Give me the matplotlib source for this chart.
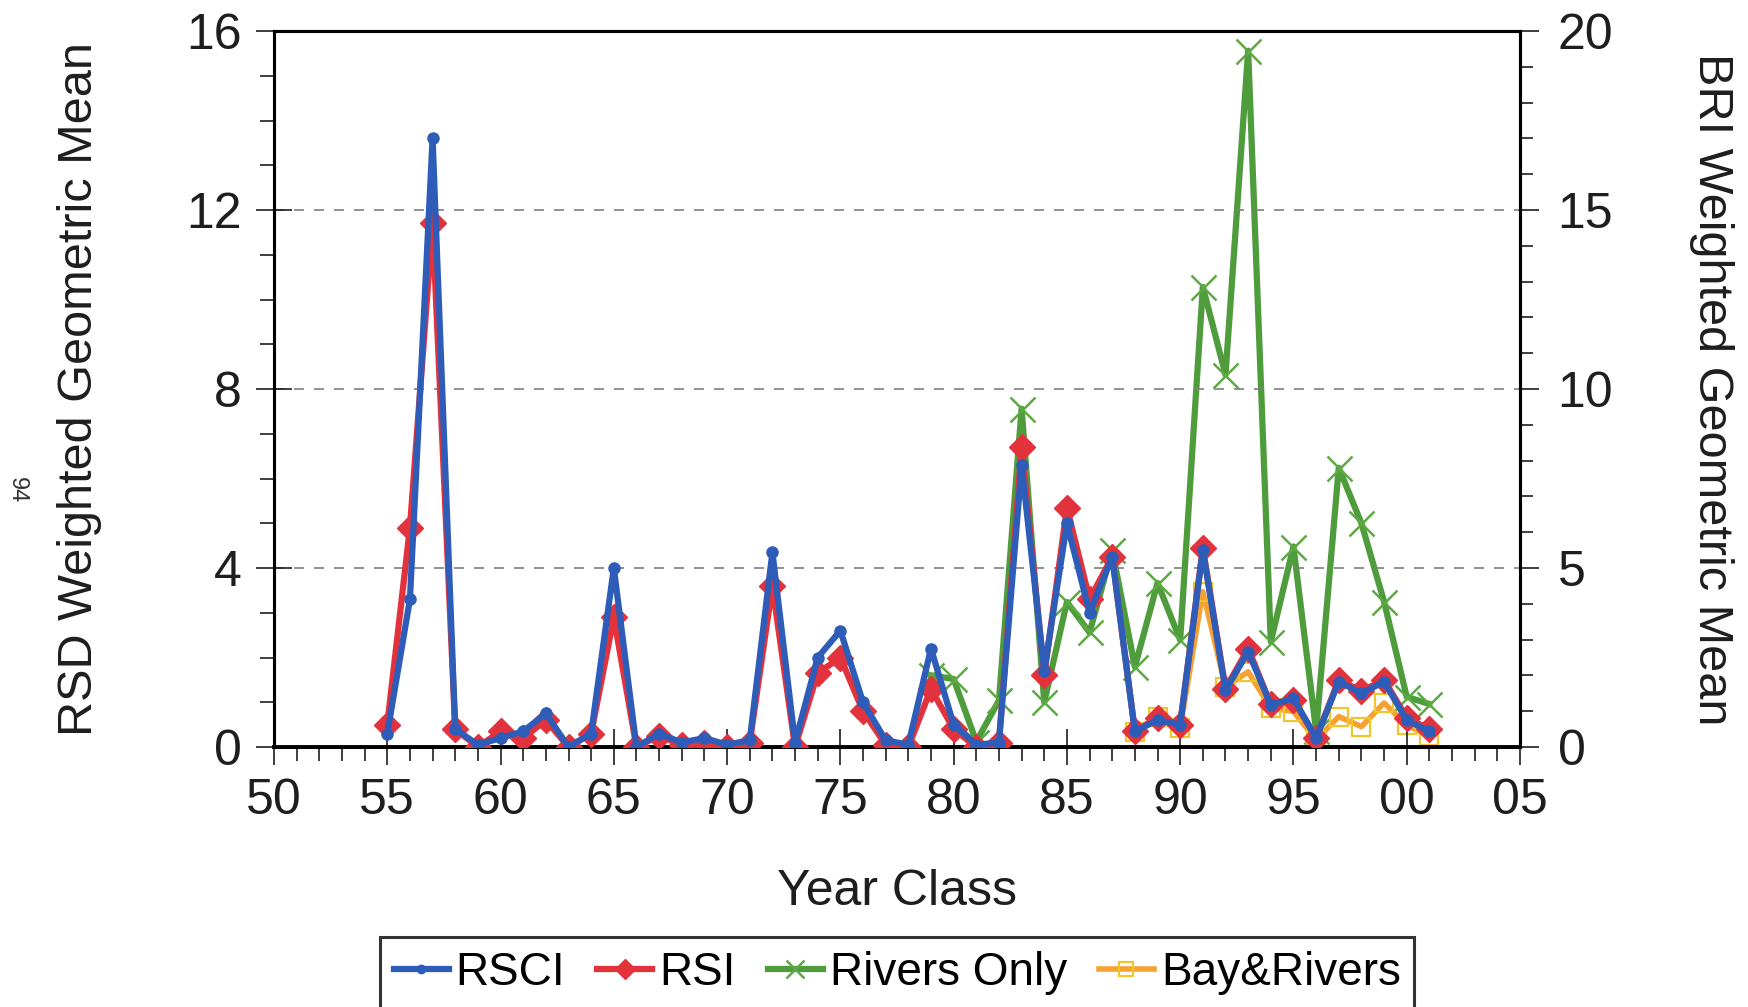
import numpy as np
import matplotlib
matplotlib.use("Agg")
import matplotlib.pyplot as plt
from matplotlib.ticker import MultipleLocator, FuncFormatter

plt.rcParams["font.family"] = ["Liberation Sans", "DejaVu Sans"]

# year classes
years_rsd = list(range(1955, 2002))
rsci = [0.3, 3.3, 13.6, 0.4, 0.05, 0.2, 0.35, 0.75, 0.0, 0.3,
        4.0, 0.0, 0.3, 0.1, 0.2, 0.05, 0.15, 4.35, 0.1, 2.0,
        2.6, 1.0, 0.15, 0.05, 2.2, 0.5, 0.05, 0.1, 6.3, 1.7,
        5.0, 3.0, 4.25, 0.35, 0.6, 0.5, 4.4, 1.27, 2.13, 0.94,
        1.09, 0.2, 1.46, 1.2, 1.46, 0.6, 0.35]
rsi = [0.5, 4.9, 11.7, 0.4, 0.0, 0.35, 0.2, 0.6, 0.0, 0.3,
       2.9, 0.0, 0.25, 0.05, 0.1, 0.0, 0.1, 3.6, 0.0, 1.65,
       2.0, 0.8, 0.05, 0.0, 1.3, 0.4, 0.0, 0.1, 6.7, 1.6,
       5.35, 3.3, 4.25, 0.35, 0.65, 0.5, 4.45, 1.3, 2.2, 0.95,
       1.05, 0.2, 1.5, 1.25, 1.5, 0.65, 0.4]

years_rivers = list(range(1979, 2002))
rivers_only = [2.0, 1.9, 0.15, 1.3, 9.45, 1.25, 4.05, 3.2, 5.5, 2.24,
               4.58, 2.99, 12.85, 10.4, 19.45, 2.94, 5.6, 0.45, 7.8, 6.25,
               4.06, 1.4, 1.2]

years_bay = list(range(1988, 2002))
bay_rivers = [0.43, 0.85, 0.53, 4.34, 1.68, 2.1, 1.09, 0.99, 0.2, 0.85,
              0.57, 1.23, 0.61, 0.3]

blue = "#2D5DB9"
red = "#E2323C"
green = "#4E9C3C"
orange = "#F6A233"
gold = "#F2C62A"
ink = "#1e1e1e"

fig = plt.figure(figsize=(17.49, 10.07), dpi=100)
ax = fig.add_axes([274 / 1749, 1 - 747 / 1007, 1246 / 1749, 716 / 1007])
ax2 = ax.twinx()

l_rsi, = ax.plot(years_rsd, rsi, color=red, lw=4.5, marker="D", ms=13,
                 mfc=red, mec=red, zorder=3, label="RSI")
l_rsci, = ax.plot(years_rsd, rsci, color=blue, lw=4.5, marker="o", ms=8,
                  mfc=blue, mec=blue, zorder=4, label="RSCI")
l_riv, = ax2.plot(years_rivers, rivers_only, color=green, lw=4.5, marker="x",
                  ms=18, mew=1.8, mec="#5DAA44", label="Rivers Only")
l_bay, = ax2.plot(years_bay, bay_rivers, color=orange, lw=4, marker="s",
                  ms=13, mfc="none", mec=gold, mew=1.6, label="Bay&Rivers")

# primary axis drawn above the twin so blue/red lie over green/orange
ax.set_zorder(ax2.get_zorder() + 1)
ax.patch.set_visible(False)

ax.set_xlim(1950, 2005)
ax.set_ylim(0, 16)
ax2.set_ylim(0, 20)

ax.xaxis.set_major_locator(MultipleLocator(5))
ax.xaxis.set_minor_locator(MultipleLocator(1))
ax.xaxis.set_major_formatter(FuncFormatter(lambda v, p: f"{int(round(v)) % 100:02d}"))
ax.yaxis.set_major_locator(MultipleLocator(4))
ax.yaxis.set_minor_locator(MultipleLocator(1))
ax2.yaxis.set_major_locator(MultipleLocator(5))
ax2.yaxis.set_minor_locator(MultipleLocator(1))

for a in (ax, ax2):
    for s in a.spines.values():
        s.set_linewidth(2.2)
        s.set_color("black")
ax.spines["bottom"].set_linewidth(2.8)

ax.tick_params(axis="both", which="major", direction="inout", length=26, width=1.2,
               labelsize=36, pad=10, colors=ink)
ax.tick_params(axis="both", which="minor", direction="out", length=10, width=1.2,
               colors=ink)
ax.tick_params(axis="x", which="major", pad=9)
ax2.tick_params(axis="y", which="major", direction="out", length=14, width=1.2,
                labelsize=36, pad=13, colors=ink)
ax2.tick_params(axis="y", which="minor", direction="out", length=9, width=1.2,
                colors=ink)

for v in (4, 8, 12):
    ax.axhline(v, color="#7f7f7f", lw=1.2, ls=(0, (6, 6)), zorder=1)

ax.set_xlabel("Year Class", fontsize=36, color=ink, va="center")
ax.xaxis.set_label_coords(0.5, -0.203)
ax.set_ylabel("RSD Weighted Geometric Mean", fontsize=35, color=ink, va="center")
ax.yaxis.set_label_coords(-0.156, 0.5)
ax2.set_ylabel("BRI Weighted Geometric Mean", fontsize=35, color=ink,
               rotation=270, va="center")
ax2.yaxis.set_label_coords(1.154, 0.5)

fig.text(17 / 1749, 1 - 490 / 1007, "94", rotation=-90, fontsize=17,
         ha="center", va="center", color="#333333")

leg = fig.legend(handles=[l_rsci, l_rsi, l_riv, l_bay], loc="upper center",
                 bbox_to_anchor=(0.513, 1 - 937 / 1007), ncol=4, fontsize=33,
                 frameon=True, fancybox=False, edgecolor="black",
                 handlelength=1.2, handletextpad=0.15, columnspacing=0.7,
                 borderpad=0.3, borderaxespad=0, markerscale=0.75)
leg.get_frame().set_linewidth(2.2)

fig.savefig("out.png", dpi=100)
